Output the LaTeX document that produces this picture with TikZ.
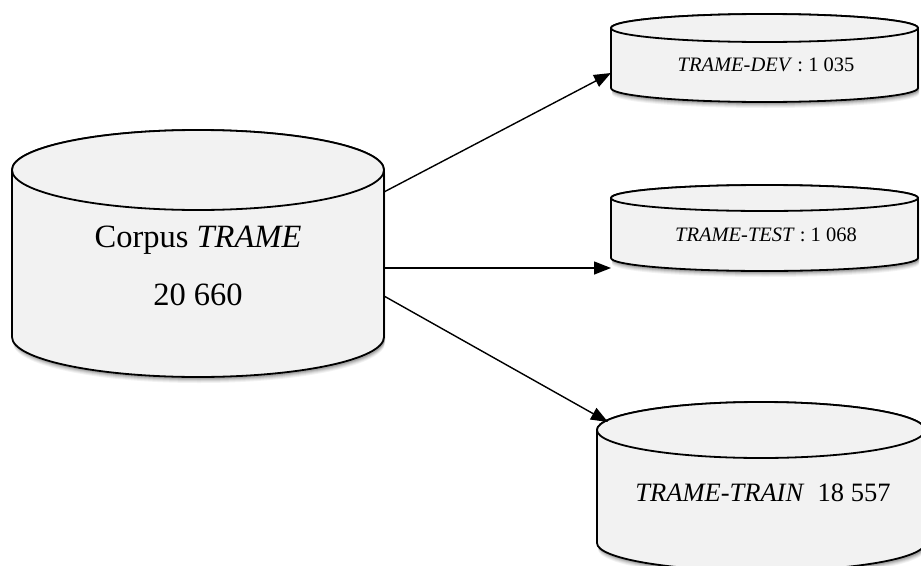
\documentclass[tikz,border=0pt]{standalone}
\usepackage{fontspec}
\setmainfont{Liberation Serif}
\usetikzlibrary{arrows.meta}
\definecolor{cylfill}{HTML}{F2F2F2}
\tikzset{
  cylbody/.style={fill=cylfill, draw=black, line width=1.8pt, line join=round},
  cylshadow/.style={fill=black, draw=none},
  conn/.style={line width=1.4pt, -{Triangle[length=17pt,width=13pt]}},
  lbl/.style={inner sep=0pt, align=center}
}
% \dbcyl{cx}{ytop}{ybot}{rx}{ry}
\newcommand\dbcyl[5]{%
  \foreach \s/\o in {6/0.05,5/0.06,4/0.08,3/0.10,2/0.12}{%
    \fill[cylshadow, opacity=\o]
      (#1-#4+1,#2-\s) -- (#1-#4+1,#3-\s)
      arc[start angle=180,end angle=360,x radius=#4pt,y radius=#5pt]
      -- (#1+#4+1,#2-\s) -- cycle;
  }%
  \path[cylbody] (#1-#4,#2) -- (#1-#4,#3)
    arc[start angle=180,end angle=360,x radius=#4pt,y radius=#5pt]
    -- (#1+#4,#2)
    arc[start angle=0,end angle=180,x radius=#4pt,y radius=#5pt] -- cycle;
  \draw[cylbody] (#1,#2) ellipse[x radius=#4pt,y radius=#5pt];
}
\begin{document}
\begin{tikzpicture}[x=1pt,y=1pt]
\useasboundingbox (0,0) rectangle (921,-565);
\dbcyl{198}{-170}{-337}{186}{40}
\dbcyl{764.5}{-28}{-88}{153.5}{14}
\dbcyl{764.5}{-198}{-258}{153.5}{13}
\dbcyl{761}{-430}{-543}{164}{28}

\node[lbl] (corpus) at (198,-240) {\fontsize{32.5}{38}\selectfont Corpus \textit{TRAME}};
\node[lbl] (corpusn) at (198,-295) {\fontsize{32.5}{38}\selectfont 20 660};
\node[lbl] (dev) at (766,-65) {\fontsize{20.5}{24}\selectfont \textit{TRAME-DEV} : 1 035};
\node[lbl] (test) at (766,-235) {\fontsize{20.5}{24}\selectfont \textit{TRAME-TEST} : 1 068};
\node[lbl] (train) at (763,-493) {\fontsize{26.5}{31}\selectfont \textit{TRAME-TRAIN}\ \ 18 557};

\coordinate (s1) at (384,-192);
\coordinate (s2) at (384,-268);
\coordinate (s3) at (384,-296);
\coordinate (e1) at (611,-73);
\coordinate (e2) at (611,-268);
\coordinate (e3) at (608,-422);
\draw[conn] (s1) -- (e1);
\draw[conn] (s2) -- (e2);
\draw[conn] (s3) -- (e3);
\end{tikzpicture}
\end{document}
